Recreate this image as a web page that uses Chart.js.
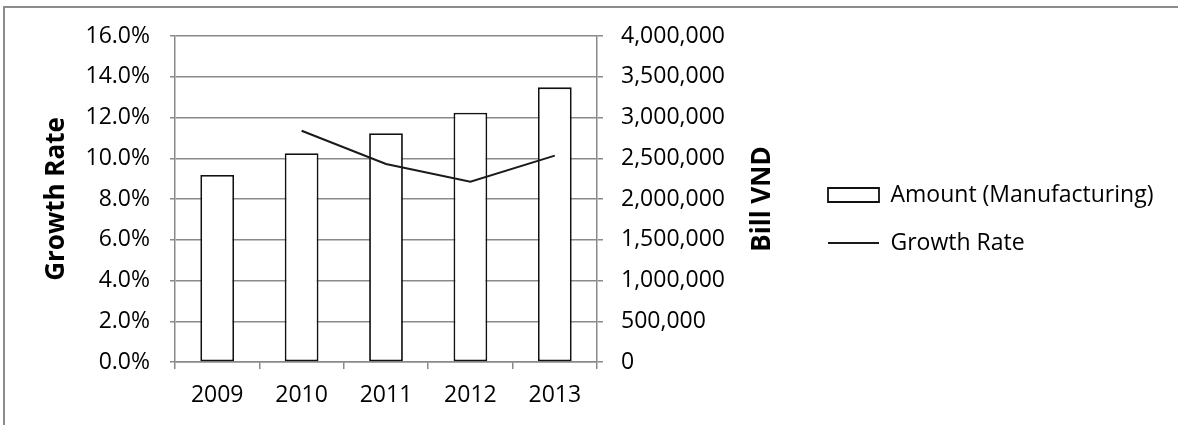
<!DOCTYPE html>
<html>
<head>
<meta charset="utf-8">
<script src="https://cdn.jsdelivr.net/npm/chart.js@4.4.1/dist/chart.umd.min.js"></script>
<style>
    html, body { margin: 0; padding: 0; background: #fff; overflow: hidden; }
    #wrap { position: relative; width: 1178px; height: 425px; }
    #frame {
        position: absolute; left: 3px; top: 6px; width: 1200px; height: 440px;
        border-top: 2px solid #8c8c8c; border-left: 2px solid #8c8c8c;
        pointer-events: none;
    }
</style>
</head>
<body>
<div id="wrap">
    <canvas id="mfgChart"></canvas>
    <div id="frame"></div>
</div>
<script>
const years = ['2009', '2010', '2011', '2012', '2013'];
const amountManufacturing = [2294000, 2561000, 2806000, 3059000, 3370000];
const growthRate = [null, 11.35, 9.72, 8.85, 10.13];
const rateTicks = [0, 2, 4, 6, 8, 10, 12, 14, 16];
const amountTicks = [0, 500000, 1000000, 1500000, 2000000, 2500000, 3000000, 3500000, 4000000];

const FONT = 'Open Sans';
const gridGray = '#8a8a8a';
const LEGEND_W = 365;

Chart.defaults.color = '#000';
Chart.defaults.font.family = FONT;
Chart.defaults.font.size = 23;

// right axis title reads bottom-to-top, chart.js would rotate it the other way
const rightTitle = {
    id: 'rightTitle',
    afterDraw(chart) {
        const s = chart.scales.y1;
        const ctx = chart.ctx;
        ctx.save();
        ctx.translate(s.left + 166, (s.top + s.bottom) / 2);
        ctx.rotate(-Math.PI / 2);
        ctx.font = 'bold 26px "' + FONT + '"';
        ctx.fillStyle = '#000';
        ctx.textAlign = 'center';
        ctx.textBaseline = 'middle';
        ctx.fillText('Bill VND', 0, 0);
        ctx.restore();
    }
};

// layout caps a side legend at a sixth of the width, give it the room it needs
const wideLegend = {
    id: 'wideLegend',
    beforeLayout(chart) {
        const lg = chart.legend;
        if (lg && !lg._wide) {
            const fit = lg.fit.bind(lg);
            lg.fit = function() {
                fit();
                this.width = LEGEND_W;
            };
            lg._wide = true;
        }
    }
};

const ctx = document.getElementById('mfgChart').getContext('2d');
new Chart(ctx, {
    data: {
        labels: years,
        datasets: [{
            type: 'bar',
            label: 'Amount (Manufacturing)',
            data: amountManufacturing,
            yAxisID: 'y1',
            backgroundColor: '#fff',
            borderColor: '#111',
            borderWidth: 1.8,
            borderSkipped: false,
            barPercentage: 0.4,
            categoryPercentage: 1,
            pointStyle: 'rect',
            order: 1
        }, {
            type: 'line',
            label: 'Growth Rate',
            data: growthRate,
            yAxisID: 'y',
            borderColor: '#1a1a1a',
            backgroundColor: '#1a1a1a',
            borderWidth: 2,
            pointRadius: 0,
            pointStyle: 'line',
            tension: 0,
            order: 0
        }]
    },
    options: {
        responsive: true,
        maintainAspectRatio: false,
        animation: false,
        layout: { padding: { left: 0, right: 10, top: 36, bottom: 23 } },
        plugins: {
            tooltip: { enabled: false },
            legend: {
                position: 'right',
                align: 'center',
                labels: {
                    usePointStyle: true,
                    pointStyleWidth: 51,
                    boxHeight: 14,
                    padding: 25,
                    color: '#000',
                    font: { size: 23 },
                    sort: (a, b) => a.datasetIndex - b.datasetIndex
                }
            }
        },
        scales: {
            x: {
                offset: true,
                grid: { offset: true, drawOnChartArea: false, tickLength: 7, color: gridGray, lineWidth: 1.5 },
                border: { display: true, color: gridGray, width: 1.5 },
                ticks: { padding: 13, maxRotation: 0 },
                afterFit: (scale) => { scale.height = 40; }
            },
            y: {
                position: 'left',
                min: 0,
                max: 16,
                afterBuildTicks: (scale) => { scale.ticks = rateTicks.map(v => ({ value: v })); },
                ticks: { padding: 20, callback: (v) => v.toFixed(1) + '%' },
                grid: { color: gridGray, lineWidth: 1.5, tickLength: 5 },
                border: { display: true, color: gridGray, width: 1.5 },
                title: {
                    display: true,
                    text: 'Growth Rate',
                    font: { size: 26, weight: 'bold' },
                    padding: { top: 41, bottom: 0 }
                },
                afterFit: (scale) => { scale.width = 175; }
            },
            y1: {
                position: 'right',
                min: 0,
                max: 4000000,
                afterBuildTicks: (scale) => { scale.ticks = amountTicks.map(v => ({ value: v })); },
                ticks: { padding: 18, callback: (v) => v.toLocaleString('en-US') },
                grid: { drawOnChartArea: false, color: gridGray, lineWidth: 1.5, tickLength: 6 },
                border: { display: true, color: gridGray, width: 1.5 },
                afterFit: (scale) => { scale.width = 206; }
            }
        }
    },
    plugins: [rightTitle, wideLegend]
});
</script>
</body>
</html>
